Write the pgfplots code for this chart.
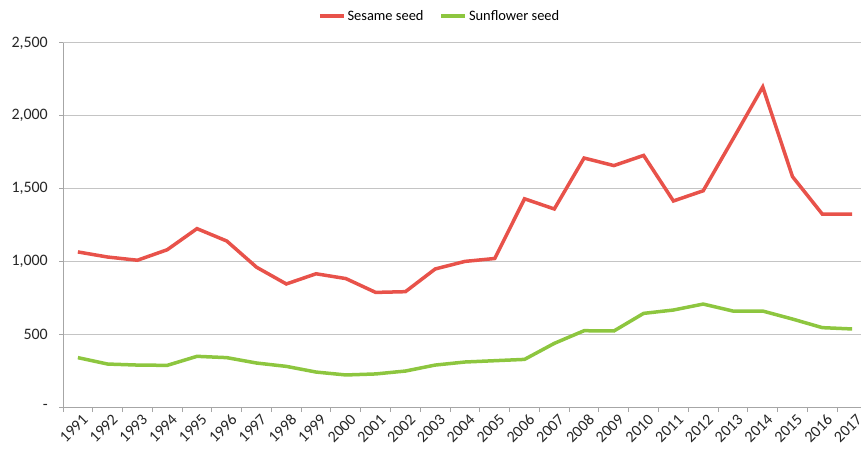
\documentclass[border=0pt]{standalone}
\usepackage{pgfplots}
\pgfplotsset{compat=1.18}
\usepackage{fontspec}
\setmainfont{Carlito}

\definecolor{sesame}{HTML}{E8524A}
\definecolor{sunflower}{HTML}{8DC63F}
\definecolor{gridgray}{HTML}{C4C4C4}
\definecolor{axisgray}{HTML}{A6A6A6}

\begin{document}
\begin{tikzpicture}
\begin{axis}[
    name=ax,
    scale only axis,
    width=798bp, height=364bp,
    xmin=-0.5, xmax=26.3,
    ymin=0, ymax=2500,
    axis lines*=left,
    axis line style={axisgray, line width=1bp},
    xtick={0,...,26},
    xticklabels={1991,1992,1993,1994,1995,1996,1997,1998,1999,2000,2001,2002,2003,2004,2005,2006,2007,2008,2009,2010,2011,2012,2013,2014,2015,2016,2017},
    major x tick style={draw=none},
    minor xtick={-0.5,0.5,...,25.5},
    minor x tick style={axisgray, line width=1bp},
    minor tick length=5bp,
    ytick={0,500,1000,1500,2000,2500},
    yticklabels={-,500,{1,000},{1,500},{2,000},{2,500}},
    y tick style={axisgray, line width=1bp},
    major tick length=4bp,
    tick align=outside,
    ymajorgrids,
    grid style={gridgray, line width=1bp},
    tick label style={font=\fontsize{16}{19}\selectfont, text=black!85},
    x tick label style={rotate=45, anchor=north east, inner sep=1pt, xshift=2bp, yshift=-3bp},
    y tick label style={inner sep=2bp, xshift=-9bp},
    legend style={at={(0.472,1.074)}, anchor=center, draw=none, fill=none,
        font=\fontsize{14.5}{17}\selectfont, legend columns=2,
        /tikz/every even column/.append style={column sep=14bp}},
    legend image code/.code={\draw[#1, line width=3.5bp] (0bp,0bp) -- (24bp,0bp);},
]
\addplot[sesame, line width=3.5bp, mark=none] coordinates {
    (0,1065) (1,1030) (2,1008) (3,1080) (4,1225) (5,1140) (6,960) (7,845) (8,915)
    (9,882) (10,787) (11,792) (12,948) (13,1000) (14,1020) (15,1430) (16,1360)
    (17,1710) (18,1658) (19,1728) (20,1415) (21,1485) (22,1840) (23,2198)
    (24,1582) (25,1325) (26,1325)};
\addplot[sunflower, line width=3.5bp, mark=none] coordinates {
    (0,339) (1,295) (2,288) (3,286) (4,348) (5,339) (6,302) (7,279) (8,240)
    (9,220) (10,227) (11,247) (12,288) (13,309) (14,318) (15,327) (16,437)
    (17,524) (18,522) (19,643) (20,666) (21,707) (22,659) (23,659) (24,604)
    (25,545) (26,536)};
\legend{Sesame seed, Sunflower seed}
\end{axis}
\pgfresetboundingbox
\path[use as bounding box] ([shift={(-63bp,-47bp)}]ax.south west) rectangle ([shift={(0bp,43bp)}]ax.north east);
\end{tikzpicture}
\end{document}
